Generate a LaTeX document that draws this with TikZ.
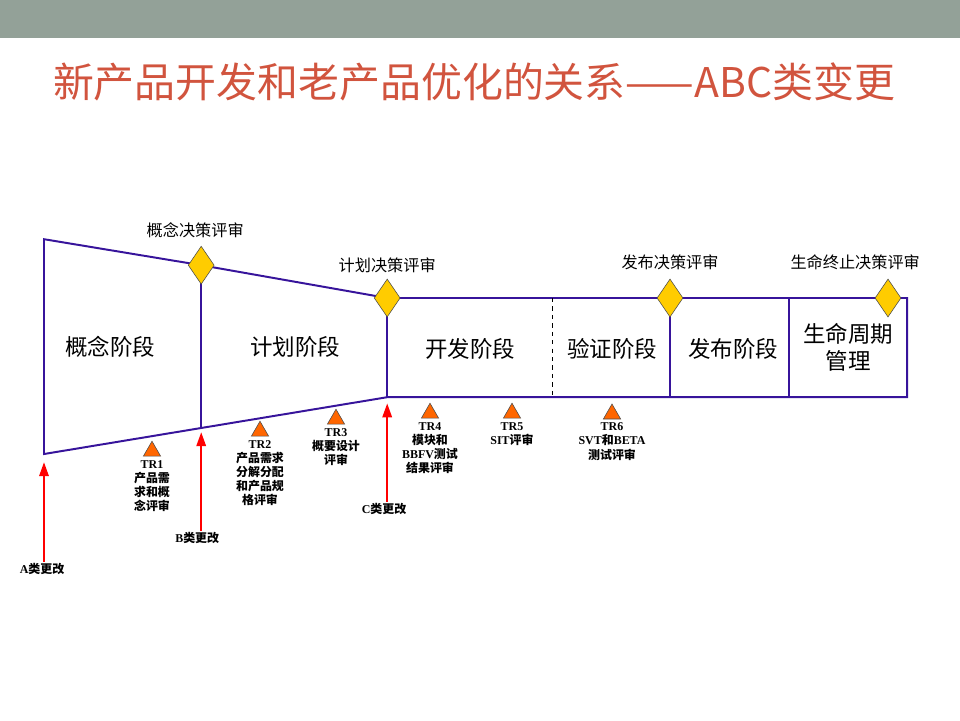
\documentclass[tikz,border=0pt]{standalone}
\usepackage{fontspec}
\setmainfont{Liberation Serif}
\newfontfamily\cjk{Noto Sans CJK SC}
\usetikzlibrary{positioning,arrows.meta,shapes.geometric}
\definecolor{bandgray}{RGB}{147,161,152}
\definecolor{titlered}{RGB}{209,84,62}
\definecolor{linepurple}{RGB}{55,20,155}
\definecolor{dcpyellow}{RGB}{255,204,0}
\definecolor{trorange}{RGB}{255,102,0}
\newcommand{\zh}[1]{{\cjk #1}}

\begin{document}
\begin{tikzpicture}[
  % Node Styles
  dcp/.style={diamond, draw=black!70, fill=dcpyellow, inner sep=0pt, minimum width=0.65cm, minimum height=0.95cm},
  dcplabel/.style={font=\cjk\fontsize{11.5}{13}\selectfont, inner sep=1pt},
  stage/.style={font=\cjk\fontsize{16}{19}\selectfont, align=center},
  trmark/.style={regular polygon, regular polygon sides=3, draw=black!70, fill=trorange, inner sep=0pt, minimum size=0.5cm},
  trlabel/.style={font=\bfseries\fontsize{8.5}{10}\selectfont, align=center, inner sep=1pt},
  changelabel/.style={font=\bfseries\fontsize{8.5}{10}\selectfont, inner sep=1pt},
  % Arrow Styles
  outline/.style={draw=linepurple, line width=1.4pt},
  changearrow/.style={-{Triangle[width=6.5pt,length=10pt]}, red, line width=1.8pt},
]
\useasboundingbox (0,0) rectangle (24,-18);
\fill[bandgray] (0,0) rectangle (24,-0.95);

% Title
\node[font=\cjk\fontsize{29.1}{32}\selectfont, text=titlered] (title) at (11.85,-2.05) {新产品开发和老产品优化的关系——ABC类变更};

% Outline of the funnel
\coordinate (tl) at (1.10,-5.98);
\coordinate (bl) at (1.10,-11.35);
\coordinate (c1) at (5.03,-6.63);
\coordinate (b1) at (5.03,-10.70);
\coordinate (c2) at (9.68,-7.45);
\coordinate (bm) at (9.68,-9.93);
\coordinate (tr) at (22.68,-7.45);
\coordinate (br) at (22.68,-9.93);

\draw[outline] (bl) -- (tl) -- (c1) -- (c2) -- (tr) -- (br) -- (bm) -- cycle;
\draw[outline] (c1) -- (b1);
\draw[outline] (c2) -- (bm);
\draw[outline] (16.75,-7.45) -- (16.75,-9.93);
\draw[outline] (19.73,-7.45) -- (19.73,-9.93);
\draw[black, thin, dashed] (13.80,-7.45) -- (13.80,-9.93);

% Decision checkpoints
\node[dcp] (dcp1) at (c1) {};
\node[dcp] (dcp2) at (c2) {};
\node[dcp] (dcp3) at (16.75,-7.45) {};
\node[dcp] (dcp4) at (22.20,-7.45) {};

\node[dcplabel] (dcp1lbl) at (4.88,-5.75) {概念决策评审};
\node[dcplabel] (dcp2lbl) at (9.68,-6.63) {计划决策评审};
\node[dcplabel] (dcp3lbl) at (16.75,-6.55) {发布决策评审};
\node[dcplabel] (dcp4lbl) at (21.38,-6.55) {生命终止决策评审};

% Stages
\node[stage] (concept) at (2.75,-8.68) {概念阶段};
\node[stage] (plan) at (7.38,-8.68) {计划阶段};
\node[stage] (develop) at (11.75,-8.73) {开发阶段};
\node[stage] (verify) at (15.30,-8.73) {验证阶段};
\node[stage] (release) at (18.33,-8.73) {发布阶段};
\node[stage] (lifecycle) at (21.20,-8.68) {生命周期\\管理};

% Technical reviews
\node[trmark] (tr1) at (3.80,-11.28) {};
\node[trmark] (tr2) at (6.50,-10.78) {};
\node[trmark] (tr3) at (8.40,-10.48) {};
\node[trmark] (tr4) at (10.75,-10.33) {};
\node[trmark] (tr5) at (12.80,-10.33) {};
\node[trmark] (tr6) at (15.30,-10.35) {};

\node[trlabel, below=0.05cm of tr1] (tr1lbl) {TR1\\\zh{产品需}\\\zh{求和概}\\\zh{念评审}};
\node[trlabel, below=0.05cm of tr2] (tr2lbl) {TR2\\\zh{产品需求}\\\zh{分解分配}\\\zh{和产品规}\\\zh{格评审}};
\node[trlabel, below=0.05cm of tr3] (tr3lbl) {TR3\\\zh{概要设计}\\\zh{评审}};
\node[trlabel, below=0.05cm of tr4] (tr4lbl) {TR4\\\zh{模块和}\\BBFV\zh{测试}\\\zh{结果评审}};
\node[trlabel, below=0.05cm of tr5] (tr5lbl) {TR5\\SIT\zh{评审}};
\node[trlabel, below=0.05cm of tr6] (tr6lbl) {TR6\\SVT\zh{和}BETA\\\zh{测试评审}};

% Change classes
\coordinate (tipA) at (1.10,-11.55);
\coordinate (tipB) at (5.03,-10.80);
\coordinate (tipC) at (9.68,-10.08);
\node[changelabel] (chgA) at (1.05,-14.23) {A\zh{类更改}};
\node[changelabel] (chgB) at (4.93,-13.45) {B\zh{类更改}};
\node[changelabel] (chgC) at (9.60,-12.73) {C\zh{类更改}};

\draw[changearrow] (chgA.north -| tipA) -- (tipA);
\draw[changearrow] (chgB.north -| tipB) -- (tipB);
\draw[changearrow] (chgC.north -| tipC) -- (tipC);

\end{tikzpicture}
\end{document}
